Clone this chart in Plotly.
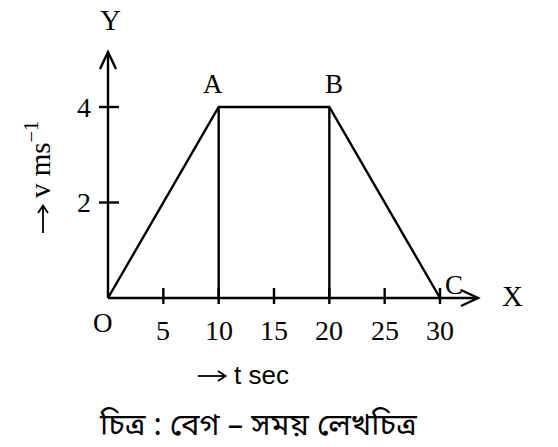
import plotly.graph_objects as go

# Data
t_vals = [0, 10, 20, 30]
v_vals = [0, 4, 4, 0]
point_labels = ["O", "A", "B", "C"]
x_ticks = [5, 10, 15, 20, 25, 30]
y_ticks = [2, 4]
drop_lines_t = [10, 20]

W, H = 558, 447
# pixel mapping: x=0 -> 108px, x=30 -> 440px ; y=0 -> 298px, y=4 -> 107px
sx = (440 - 108) / 30.0
sy = (298 - 107) / 4.0
x0 = -108 / sx
x1 = x0 + W / sx
ytop = 298 / sy
ybot = -(H - 298) / sy

def px(dx):
    return dx / sx

def py(dy):
    return dy / sy

def X(pix):  # window pixel x -> data x
    return (pix - 108) / sx

def Y(pix):  # window pixel y -> data y
    return (298 - pix) / sy

fig = go.Figure()
LW = 2.4
serif = "Liberation Serif, Times New Roman, serif"
sans = "Liberation Sans, Arial, sans-serif"

# main v-t line
fig.add_trace(go.Scatter(x=t_vals, y=v_vals, mode="lines",
                         line=dict(color="black", width=LW), hoverinfo="skip"))
# vertical drop lines
for tt in drop_lines_t:
    vv = v_vals[t_vals.index(tt)]
    fig.add_trace(go.Scatter(x=[tt, tt], y=[0, vv], mode="lines",
                             line=dict(color="black", width=LW), hoverinfo="skip"))

shapes = []
# axes
y_end = py(298 - 52)
x_end = px(478 - 108)
shapes.append(dict(type="line", x0=0, y0=0, x1=0, y1=y_end,
                   line=dict(color="black", width=LW)))
shapes.append(dict(type="line", x0=0, y0=0, x1=x_end, y1=0,
                   line=dict(color="black", width=LW)))
# arrow heads (chevrons)
shapes.append(dict(type="path",
                   path=f"M {-px(8)},{y_end - py(17)} L 0,{y_end} L {px(8)},{y_end - py(17)}",
                   line=dict(color="black", width=LW)))
shapes.append(dict(type="path",
                   path=f"M {x_end - px(17)},{py(8)} L {x_end},0 L {x_end - px(17)},{-py(8)}",
                   line=dict(color="black", width=LW)))
# ticks
for xt in x_ticks:
    shapes.append(dict(type="line", x0=xt, x1=xt, y0=-py(6), y1=py(10),
                       line=dict(color="black", width=LW)))
for yt in y_ticks:
    shapes.append(dict(type="line", x0=-px(9), x1=px(11), y0=yt, y1=yt,
                       line=dict(color="black", width=LW)))

# small direction arrows beside the axis titles
AW = 1.8
# horizontal arrow before "t sec"
shapes.append(dict(type="line", x0=X(198), y0=Y(376), x1=X(225), y1=Y(376),
                   line=dict(color="black", width=AW)))
shapes.append(dict(type="path",
                   path=f"M {X(218)},{Y(371)} L {X(225.5)},{Y(376)} L {X(218)},{Y(381)}",
                   line=dict(color="black", width=AW)))
# vertical arrow below "v ms-1"
shapes.append(dict(type="line", x0=X(43), y0=Y(233), x1=X(43), y1=Y(206),
                   line=dict(color="black", width=AW)))
shapes.append(dict(type="path",
                   path=f"M {X(38)},{Y(213)} L {X(43)},{Y(205.5)} L {X(48)},{Y(213)}",
                   line=dict(color="black", width=AW)))

annotations = []
# tick labels
for xt in x_ticks:
    annotations.append(dict(x=xt, y=-py(32), text=str(xt), showarrow=False,
                            font=dict(family=serif, size=28, color="black")))
for yt in y_ticks:
    annotations.append(dict(x=-px(24), y=yt, text=str(yt), showarrow=False,
                            font=dict(family=serif, size=28, color="black")))
# point labels
offsets = {"O": (-5, -25), "A": (-6, 23), "B": (5, 23), "C": (14, 13)}
for lab, tt, vv in zip(point_labels, t_vals, v_vals):
    dx, dy = offsets[lab]
    annotations.append(dict(x=tt + px(dx), y=vv + py(dy), text=lab, showarrow=False,
                            font=dict(family=serif, size=27, color="black")))
# axis letters
annotations.append(dict(x=px(2), y=py(298 - 20), text="Y", showarrow=False,
                        font=dict(family=serif, size=29, color="black")))
annotations.append(dict(x=px(512 - 108), y=py(298 - 296), text="X", showarrow=False,
                        font=dict(family=serif, size=29, color="black")))
# axis titles
annotations.append(dict(x=X(261), y=Y(375), text="t sec", showarrow=False,
                        font=dict(family=sans, size=26, color="black")))
annotations.append(dict(x=X(38), y=Y(160), text="v ms<sup>−1</sup>",
                        textangle=-90, showarrow=False,
                        font=dict(family=serif, size=29, color="black")))
# caption
annotations.append(dict(x=X(258), y=Y(427), text="চিত্র : বেগ – সময় লেখচিত্র",
                        showarrow=False,
                        font=dict(family="Noto Sans Bengali, Noto Serif Bengali, Lohit Bengali, sans-serif",
                                  size=31, color="black")))

fig.update_layout(
    width=W, height=H,
    margin=dict(l=0, r=0, t=0, b=0),
    paper_bgcolor="white", plot_bgcolor="white",
    showlegend=False,
    xaxis=dict(range=[x0, x1], visible=False, fixedrange=True),
    yaxis=dict(range=[ybot, ytop], visible=False, fixedrange=True),
    shapes=shapes, annotations=annotations,
)
fig.write_html("out.html", config={"displayModeBar": False},
               post_script="document.body.style.margin='0';document.body.style.overflow='hidden';")
